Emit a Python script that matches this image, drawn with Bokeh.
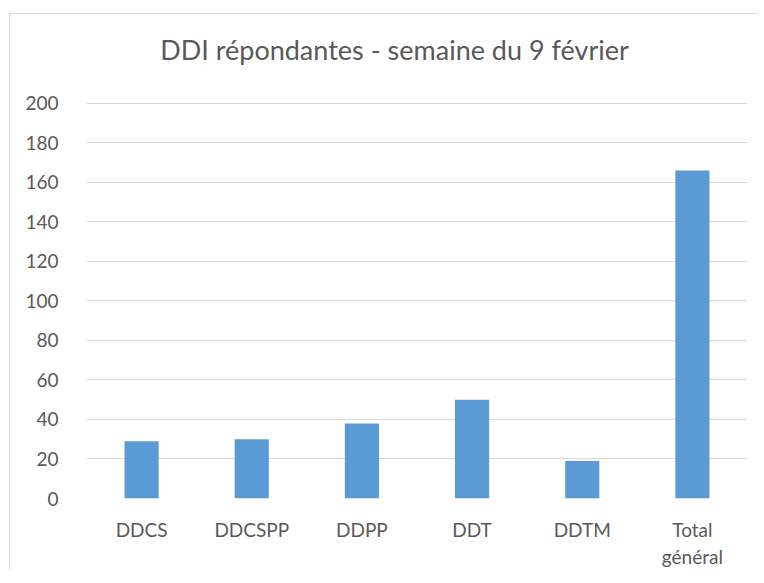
from bokeh.plotting import figure
from bokeh.models import ColumnDataSource, FixedTicker, Label
from bokeh.embed import file_html
from bokeh.resources import INLINE

categories = ["DDCS", "DDCSPP", "DDPP", "DDT", "DDTM", "Total\ngénéral"]
values = [29, 30, 38, 50, 19, 166]
y_ticks = [0, 20, 40, 60, 80, 100, 120, 140, 160, 180, 200]
title_text = "DDI répondantes - semaine du 9 février"

FONT = "Lato"
TXT = "#595959"
GRID = "#d9d9d9"

src = ColumnDataSource(dict(cat=categories, val=values))

# y range extends above 200 to leave room for the title inside the frame
p = figure(x_range=categories, y_range=(0, 245), width=748, height=557,
           output_backend="svg", toolbar_location=None,
           min_border_left=76, min_border_right=11, min_border_top=0, min_border_bottom=72)
p.styles = {"border-top": "1px solid #d9d9d9", "border-left": "1px solid #d9d9d9",
            "margin-top": "13px", "margin-left": "9px"}

p.add_layout(Label(x=308, y=449, x_units="screen", y_units="screen", text=title_text,
                   text_align="center", text_baseline="alphabetic", text_font=FONT,
                   text_font_size="27px", text_color=TXT))

p.vbar(x="cat", top="val", width=0.31, source=src, fill_color="#5B9BD5", line_color=None)

p.outline_line_color = None
p.xgrid.grid_line_color = None
p.ygrid.grid_line_color = GRID
p.ygrid.grid_line_width = 1
p.ygrid.ticker = FixedTicker(ticks=y_ticks)
p.yaxis.ticker = FixedTicker(ticks=y_ticks)

for ax in (p.xaxis, p.yaxis):
    ax.axis_line_color = None
    ax.major_tick_line_color = None
    ax.minor_tick_line_color = None
    ax.major_label_text_font = FONT
    ax.major_label_text_font_size = "19px"
    ax.major_label_text_color = TXT
p.yaxis.major_label_standoff = 22
p.xaxis.major_label_standoff = 13

open("out.html", "w").write(file_html(p, INLINE))
